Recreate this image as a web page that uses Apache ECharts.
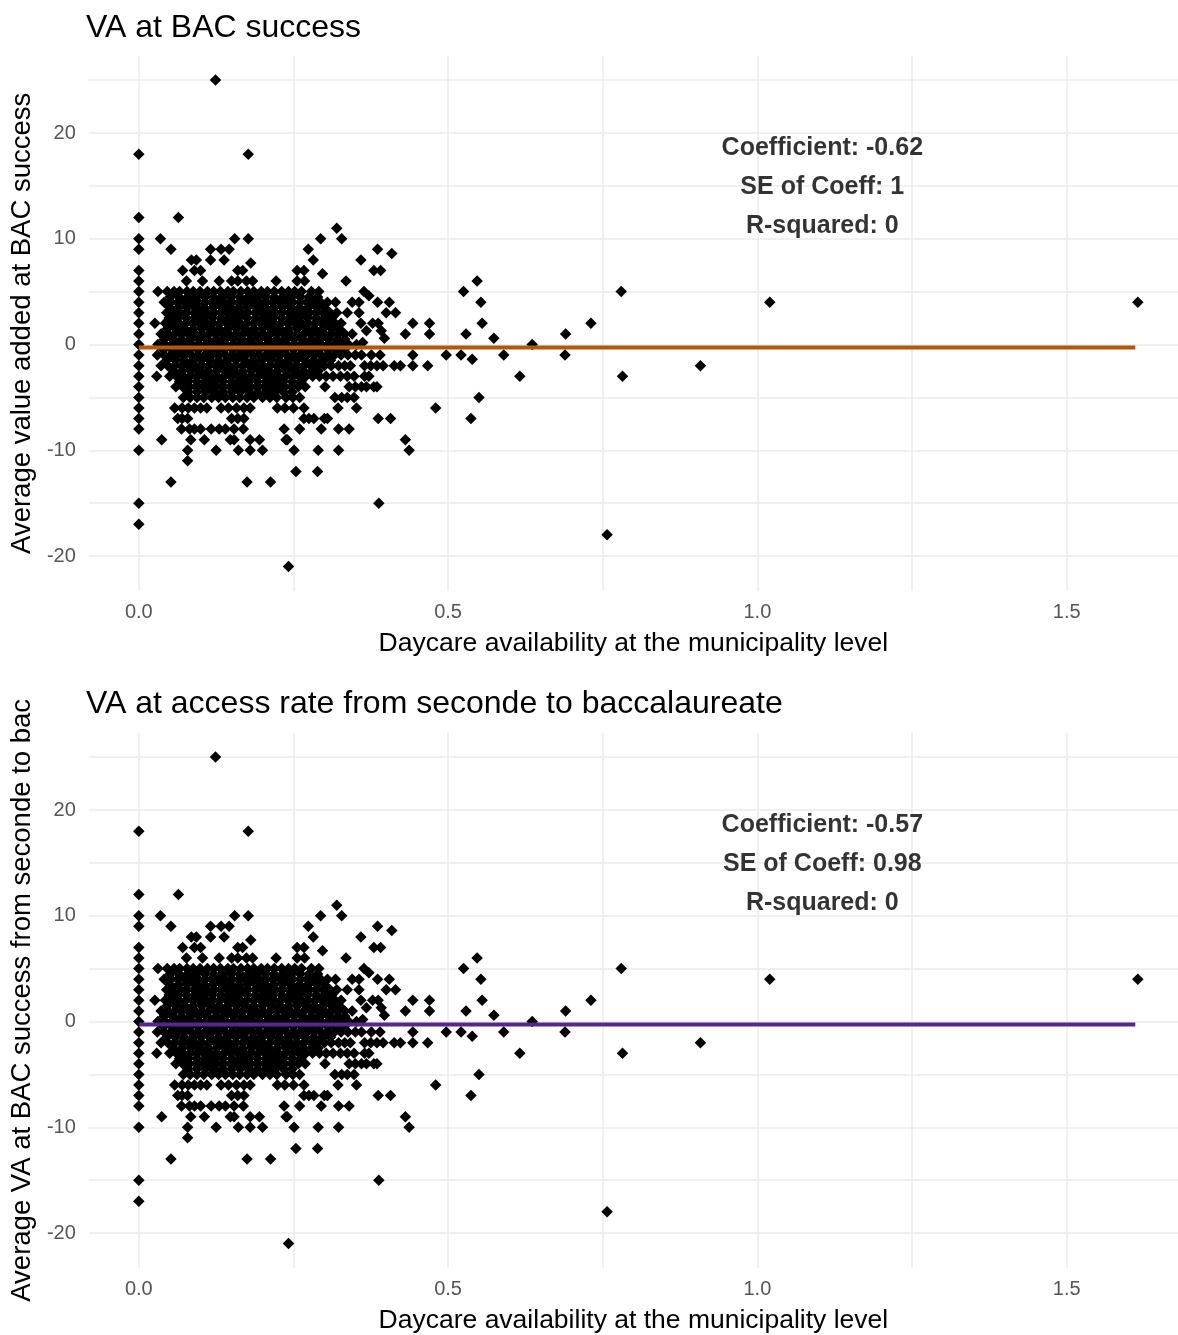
<!DOCTYPE html>
<html><head><meta charset="utf-8">
<script src="https://cdn.jsdelivr.net/npm/echarts@6/dist/echarts.min.js"></script>
<style>html,body{margin:0;padding:0;background:#fff}#c{width:1178px;height:1335px}</style>
</head><body><div id="c"></div><script>
// ---- data ----
const titles = ['VA at BAC success', 'VA at access rate from seconde to baccalaureate'];
const yNames = ['Average value added at BAC success', 'Average VA at BAC success from seconde to bac'];
const xName = 'Daycare availability at the municipality level';
const xTicks = [0, 0.5, 1.0, 1.5];
const xMinor = [0.25, 0.75, 1.25];
const yTicks = [-20, -10, 0, 10, 20];
const yMinor = [-15, -5, 5, 15, 25];
const stats1 = ['Coefficient: -0.62', 'SE of Coeff: 1', 'R-squared: 0'];
const stats2 = ['Coefficient: -0.57', 'SE of Coeff: 0.98', 'R-squared: 0'];
const fit1 = [[0, -0.28], [1.611, -0.28]];
const fit2 = [[0, -0.28], [1.611, -0.28]];

const points = [
// x = 0 column
[0,18],[0,12],[0,10],[0,9],[0,7],[0,6],[0,5],[0,4],[0,3],[0,2],[0,1],[0,0],[0,-1],[0,-2],[0,-3],[0,-4],[0,-5],[0,-6],[0,-7],[0,-8],[0,-10],[0,-15],[0,-17],
// upper outliers
[0.124,25],[0.177,18],[0.064,12],[0.32,11],
[0.035,10],[0.155,10],[0.177,10],[0.294,10],[0.328,10],
[0.052,9],[0.116,9],[0.133,9],[0.146,9],[0.274,9],[0.386,9],[0.409,8.6],
[0.085,8],[0.093,8],[0.116,8],[0.138,8],[0.181,7.7],[0.282,8],[0.359,8],
[0.071,7],[0.09,7],[0.1,7],[0.16,7],[0.168,7],[0.256,7],[0.267,7],[0.297,6.7],[0.38,7],[0.391,7],
[0.077,6],[0.103,6],[0.13,6],[0.15,6],[0.16,6],[0.174,6],[0.184,6],[0.222,6],[0.256,6],[0.268,6],[0.335,6],[0.547,6],
// y = 5
[0.031,5],[0.046,5],[0.057,5],[0.066,5],[0.078,5],[0.088,5],[0.099,5],[0.111,5],[0.121,5],[0.132,5],[0.144,5],[0.153,5],[0.165,5],[0.176,5],[0.186,5],[0.198,5],[0.208,5],[0.219,5],[0.231,5],[0.242,5],[0.252,5],[0.263,5],[0.279,5],[0.291,5],[0.364,5],[0.372,4.6],[0.525,5],[0.78,5],
// y = 4.5
[0.051,4.5],[0.065,4.5],[0.079,4.5],[0.093,4.5],[0.107,4.5],[0.121,4.5],[0.135,4.5],[0.149,4.5],[0.163,4.5],[0.177,4.5],[0.191,4.5],[0.205,4.5],[0.219,4.5],[0.233,4.5],[0.247,4.5],[0.261,4.5],[0.275,4.5],[0.289,4.5],
// y = 4
[0.041,4],[0.052,4],[0.063,4],[0.074,4],[0.085,4],[0.096,4],[0.107,4],[0.118,4],[0.129,4],[0.139,4],[0.151,4],[0.162,4],[0.172,4],[0.184,4],[0.195,4],[0.206,4],[0.216,4],[0.228,4],[0.239,4],[0.249,4],[0.261,4],[0.272,4],[0.283,4],[0.294,4],[0.305,4],
[0.318,4],[0.345,4],[0.356,4],[0.386,4],[0.405,4],[0.553,4],[1.02,4],[1.615,4],
// y = 3.5
[0.05,3.5],[0.064,3.5],[0.078,3.5],[0.092,3.5],[0.106,3.5],[0.12,3.5],[0.134,3.5],[0.148,3.5],[0.162,3.5],[0.176,3.5],[0.19,3.5],[0.204,3.5],[0.218,3.5],[0.232,3.5],[0.246,3.5],[0.26,3.5],[0.274,3.5],[0.288,3.5],[0.3,3.5],
// y = 3
[0.045,3],[0.055,3],[0.067,3],[0.077,3],[0.089,3],[0.1,3],[0.11,3],[0.122,3],[0.133,3],[0.143,3],[0.155,3],[0.166,3],[0.176,3],[0.188,3],[0.199,3],[0.209,3],[0.221,3],[0.232,3],[0.243,3],[0.253,3],[0.265,3],[0.276,3],[0.287,3],[0.298,3],[0.309,3],
[0.32,3],[0.337,3],[0.356,3],[0.4,3],[0.415,3],
// y = 2.5
[0.049,2.5],[0.063,2.5],[0.077,2.5],[0.091,2.5],[0.105,2.5],[0.119,2.5],[0.133,2.5],[0.147,2.5],[0.161,2.5],[0.175,2.5],[0.189,2.5],[0.203,2.5],[0.217,2.5],[0.231,2.5],[0.245,2.5],[0.259,2.5],[0.273,2.5],[0.287,2.5],[0.301,2.5],[0.312,2.5],
// y = 2
[0.026,2],[0.043,2],[0.054,2],[0.065,2],[0.076,2],[0.087,2],[0.098,2],[0.109,2],[0.12,2],[0.131,2],[0.142,2],[0.153,2],[0.164,2],[0.175,2],[0.186,2],[0.197,2],[0.208,2],[0.219,2],[0.23,2],[0.241,2],[0.252,2],[0.263,2],[0.274,2],[0.285,2],[0.296,2],[0.307,2],[0.317,2],
[0.327,2],[0.359,2],[0.378,2],[0.387,2],[0.443,2],[0.47,2],[0.555,2],[0.731,2],
// y = 1.5
[0.046,1.5],[0.06,1.5],[0.074,1.5],[0.088,1.5],[0.102,1.5],[0.116,1.5],[0.13,1.5],[0.144,1.5],[0.158,1.5],[0.172,1.5],[0.186,1.5],[0.2,1.5],[0.214,1.5],[0.228,1.5],[0.242,1.5],[0.256,1.5],[0.27,1.5],[0.284,1.5],[0.298,1.5],[0.312,1.5],[0.324,1.5],
// y = 1
[0.036,1],[0.047,1],[0.058,1],[0.069,1],[0.08,1],[0.091,1],[0.102,1],[0.113,1],[0.124,1],[0.135,1],[0.146,1],[0.157,1],[0.168,1],[0.179,1],[0.19,1],[0.201,1],[0.212,1],[0.223,1],[0.234,1],[0.245,1],[0.256,1],[0.267,1],[0.278,1],[0.289,1],[0.3,1],[0.311,1],[0.322,1],[0.333,1],
[0.345,1],[0.368,1.3],[0.392,1.3],[0.431,1],[0.47,1],[0.529,1],[0.69,1],
// y = 0.5
[0.041,0.5],[0.055,0.5],[0.069,0.5],[0.083,0.5],[0.097,0.5],[0.111,0.5],[0.125,0.5],[0.139,0.5],[0.153,0.5],[0.167,0.5],[0.181,0.5],[0.195,0.5],[0.209,0.5],[0.223,0.5],[0.237,0.5],[0.251,0.5],[0.265,0.5],[0.279,0.5],[0.293,0.5],[0.307,0.5],[0.321,0.5],[0.333,0.5],
// y = 0
[0.031,0],[0.042,0],[0.053,0],[0.064,0],[0.075,0],[0.086,0],[0.097,0],[0.108,0],[0.119,0],[0.13,0],[0.141,0],[0.152,0],[0.163,0],[0.174,0],[0.185,0],[0.196,0],[0.207,0],[0.218,0],[0.229,0],[0.24,0],[0.251,0],[0.262,0],[0.273,0],[0.284,0],[0.295,0],[0.306,0],[0.317,0],[0.328,0],[0.339,0],
[0.352,0],[0.362,0.2],[0.397,0.6],[0.574,0.6],[0.636,0],
// y = -0.5
[0.04,-0.5],[0.054,-0.5],[0.068,-0.5],[0.082,-0.5],[0.096,-0.5],[0.11,-0.5],[0.124,-0.5],[0.138,-0.5],[0.152,-0.5],[0.166,-0.5],[0.18,-0.5],[0.194,-0.5],[0.208,-0.5],[0.222,-0.5],[0.236,-0.5],[0.25,-0.5],[0.264,-0.5],[0.278,-0.5],[0.292,-0.5],[0.306,-0.5],[0.32,-0.5],[0.332,-0.5],
// y = -1
[0.03,-1],[0.041,-1],[0.052,-1],[0.063,-1],[0.074,-1],[0.085,-1],[0.096,-1],[0.107,-1],[0.118,-1],[0.129,-1],[0.14,-1],[0.151,-1],[0.162,-1],[0.173,-1],[0.184,-1],[0.195,-1],[0.206,-1],[0.217,-1],[0.228,-1],[0.239,-1],[0.25,-1],[0.261,-1],[0.272,-1],[0.283,-1],[0.294,-1],[0.305,-1],[0.316,-1],[0.327,-1],[0.338,-1],
[0.35,-1],[0.36,-1],[0.376,-1],[0.39,-1],[0.443,-1],[0.497,-1],[0.521,-1],[0.59,-1],[0.689,-1],[0.539,-1.4],
// y = -1.5
[0.045,-1.5],[0.059,-1.5],[0.073,-1.5],[0.087,-1.5],[0.101,-1.5],[0.115,-1.5],[0.129,-1.5],[0.143,-1.5],[0.157,-1.5],[0.171,-1.5],[0.185,-1.5],[0.199,-1.5],[0.213,-1.5],[0.227,-1.5],[0.241,-1.5],[0.255,-1.5],[0.269,-1.5],[0.283,-1.5],[0.297,-1.5],[0.31,-1.5],
// y = -2
[0.036,-2],[0.047,-2],[0.058,-2],[0.069,-2],[0.08,-2],[0.091,-2],[0.102,-2],[0.113,-2],[0.124,-2],[0.135,-2],[0.146,-2],[0.157,-2],[0.168,-2],[0.179,-2],[0.19,-2],[0.201,-2],[0.212,-2],[0.223,-2],[0.234,-2],[0.245,-2],[0.256,-2],[0.267,-2],[0.278,-2],[0.289,-2],[0.3,-2],[0.311,-2],
[0.323,-2],[0.333,-2],[0.342,-2],[0.365,-2],[0.375,-2],[0.385,-2],[0.395,-2],[0.413,-2],[0.423,-2],[0.443,-2],[0.467,-2],[0.908,-2],
// y = -2.5
[0.056,-2.5],[0.07,-2.5],[0.084,-2.5],[0.098,-2.5],[0.112,-2.5],[0.126,-2.5],[0.14,-2.5],[0.154,-2.5],[0.168,-2.5],[0.182,-2.5],[0.196,-2.5],[0.21,-2.5],[0.224,-2.5],[0.238,-2.5],[0.252,-2.5],[0.266,-2.5],[0.28,-2.5],[0.29,-2.5],
// y = -3
[0.029,-3],[0.05,-3],[0.061,-3],[0.072,-3],[0.083,-3],[0.094,-3],[0.105,-3],[0.116,-3],[0.127,-3],[0.138,-3],[0.149,-3],[0.16,-3],[0.171,-3],[0.182,-3],[0.193,-3],[0.204,-3],[0.215,-3],[0.226,-3],[0.237,-3],[0.248,-3],[0.259,-3],[0.27,-3],[0.281,-3],[0.292,-3],
[0.303,-3],[0.314,-3],[0.326,-3],[0.337,-3],[0.348,-3],[0.365,-3],[0.372,-3],[0.616,-3],[0.782,-3],
// y = -3.5
[0.066,-3.5],[0.08,-3.5],[0.094,-3.5],[0.108,-3.5],[0.122,-3.5],[0.136,-3.5],[0.15,-3.5],[0.164,-3.5],[0.178,-3.5],[0.192,-3.5],[0.206,-3.5],[0.22,-3.5],[0.234,-3.5],[0.248,-3.5],[0.262,-3.5],
// y = -4
[0.06,-4],[0.071,-4],[0.082,-4],[0.093,-4],[0.104,-4],[0.115,-4],[0.126,-4],[0.137,-4],[0.148,-4],[0.159,-4],[0.17,-4],[0.181,-4],[0.192,-4],[0.203,-4],[0.214,-4],[0.225,-4],[0.236,-4],[0.247,-4],[0.258,-4],[0.269,-4],
[0.301,-4],[0.34,-4],[0.35,-4],[0.36,-4],[0.368,-4],[0.38,-4],[0.385,-4],
// y = -4.5
[0.08,-4.5],[0.094,-4.5],[0.108,-4.5],[0.122,-4.5],[0.136,-4.5],[0.15,-4.5],[0.164,-4.5],[0.178,-4.5],[0.192,-4.5],[0.206,-4.5],[0.22,-4.5],[0.234,-4.5],[0.248,-4.5],
// y = -5
[0.072,-5],[0.083,-5],[0.094,-5],[0.105,-5],[0.118,-5],[0.129,-5],[0.14,-5],[0.152,-5],[0.163,-5],[0.175,-5],[0.186,-5],[0.2,-5],[0.212,-5],[0.223,-5],[0.238,-5],[0.249,-5],[0.26,-5],
[0.317,-5],[0.328,-5],[0.337,-5],[0.348,-5],[0.55,-5],
// y = -6 .. -8
[0.058,-6],[0.07,-6],[0.08,-6],[0.09,-6],[0.1,-6],[0.11,-6],[0.133,-6],[0.145,-6],[0.158,-6],[0.17,-6],[0.18,-6],[0.224,-6],[0.236,-6],[0.25,-6],[0.267,-6],[0.322,-6],[0.352,-6],[0.48,-6],
[0.063,-7],[0.07,-7],[0.079,-7],[0.15,-7],[0.16,-7],[0.17,-7],[0.267,-7],[0.275,-7],[0.283,-7],[0.3,-7],[0.305,-7],[0.387,-7],[0.407,-7],[0.537,-7],
[0.069,-8],[0.082,-8],[0.09,-8],[0.1,-8],[0.117,-8],[0.13,-8],[0.14,-8],[0.154,-8],[0.169,-8],[0.235,-8],[0.26,-8],[0.295,-8],[0.323,-8],[0.34,-8],
// lower tail
[0.037,-9],[0.084,-9],[0.106,-9],[0.148,-9],[0.154,-9],[0.18,-9],[0.195,-9],[0.238,-9],[0.24,-9],[0.431,-9],
[0.079,-10],[0.125,-10],[0.161,-10],[0.18,-10],[0.2,-10],[0.251,-10],[0.29,-10],[0.323,-10],[0.437,-10],
[0.079,-11],[0.254,-12],[0.289,-12],[0.052,-13],[0.175,-13],[0.213,-13],
[0.388,-15],[0.757,-18],[0.242,-21]
];

// ---- layout / style ----
const FONT = '"Liberation Sans", Arial, Helvetica, sans-serif';
const X_MIN = -0.0808, X_MAX = 1.68, Y_MIN = -23.3, Y_MAX = 27.3;
const gridTops = [55.8, 732.8];
const GRID_H = 535.1;
const panels = [
  {title: titles[0], yName: yNames[0], stats: stats1, fit: fit1, color: '#b35806'},
  {title: titles[1], yName: yNames[1], stats: stats2, fit: fit2, color: '#542788'}
];
const statPos = [[1.105, 18.6], [1.105, 14.9], [1.105, 11.2]];
const isMult = (v, step) => Math.abs(v / step - Math.round(v / step)) < 1e-6;

const option = {
  animation: false,
  backgroundColor: '#ffffff',
  textStyle: {fontFamily: FONT},
  title: panels.map((p, i) => ({
    text: p.title, left: 81, top: i === 0 ? 7 : 683,
    textStyle: {fontFamily: FONT, fontSize: 32, fontWeight: 'normal', color: '#000'}
  })),
  grid: panels.map((p, i) => ({left: 84, width: 1094, top: gridTops[i], height: GRID_H, containLabel: false})),
  xAxis: panels.map((p, i) => ({
    type: 'value', gridIndex: i, min: X_MIN, max: X_MAX,
    axisLine: {show: false}, axisTick: {show: false}, splitLine: {show: false},
    axisLabel: {customValues: xTicks, formatter: v => isMult(v, 0.5) ? v.toFixed(1) : '',
      color: '#555', fontSize: 20, margin: 12, fontFamily: FONT},
    name: xName, nameLocation: 'middle', nameGap: 39,
    nameTextStyle: {fontSize: 26.5, color: '#000', fontFamily: FONT}
  })),
  yAxis: panels.map((p, i) => ({
    type: 'value', gridIndex: i, min: Y_MIN, max: Y_MAX,
    axisLine: {show: false}, axisTick: {show: false}, splitLine: {show: false},
    axisLabel: {customValues: yTicks, formatter: v => isMult(v, 10) ? String(Math.round(v)) : '',
      color: '#555', fontSize: 20, margin: 13, fontFamily: FONT},
    name: p.yName, nameLocation: 'middle', nameGap: 50,
    nameTextStyle: {fontSize: 27.5, color: '#000', fontFamily: FONT}
  })),
  series: []
};

panels.forEach((p, i) => {
  const gridLines = []
    .concat(xTicks.concat(xMinor).map(v => ({xAxis: v})))
    .concat(yTicks.concat(yMinor).map(v => ({yAxis: v})));
  option.series.push({
    type: 'line', xAxisIndex: i, yAxisIndex: i, data: [], z: 0, silent: true,
    markLine: {silent: true, z: 0, symbol: ['none', 'none'], label: {show: false},
      lineStyle: {color: '#ebebeb', width: 1.5, type: 'solid'}, data: gridLines, animation: false}
  });
  option.series.push({
    type: 'scatter', xAxisIndex: i, yAxisIndex: i, data: points, z: 10,
    symbol: 'diamond', symbolSize: 11.5, itemStyle: {color: '#000', opacity: 1}, silent: true
  });
  option.series.push({
    type: 'line', xAxisIndex: i, yAxisIndex: i, data: p.fit, z: 11,
    showSymbol: false, symbol: 'none', lineStyle: {color: p.color, width: 4}, silent: true
  });
  option.series.push({
    type: 'scatter', xAxisIndex: i, yAxisIndex: i, z: 12, silent: true,
    symbolSize: 1, itemStyle: {color: 'rgba(0,0,0,0)'},
    data: p.stats.map((s, k) => ({name: s, value: statPos[k]})),
    label: {show: true, position: 'inside', formatter: d => d.name,
      fontSize: 25, fontWeight: 'bold', color: '#000', fontFamily: FONT}
  });
});

const chart = echarts.init(document.getElementById('c'), null, {renderer: 'canvas'});
chart.setOption(option);
</script></body></html>
